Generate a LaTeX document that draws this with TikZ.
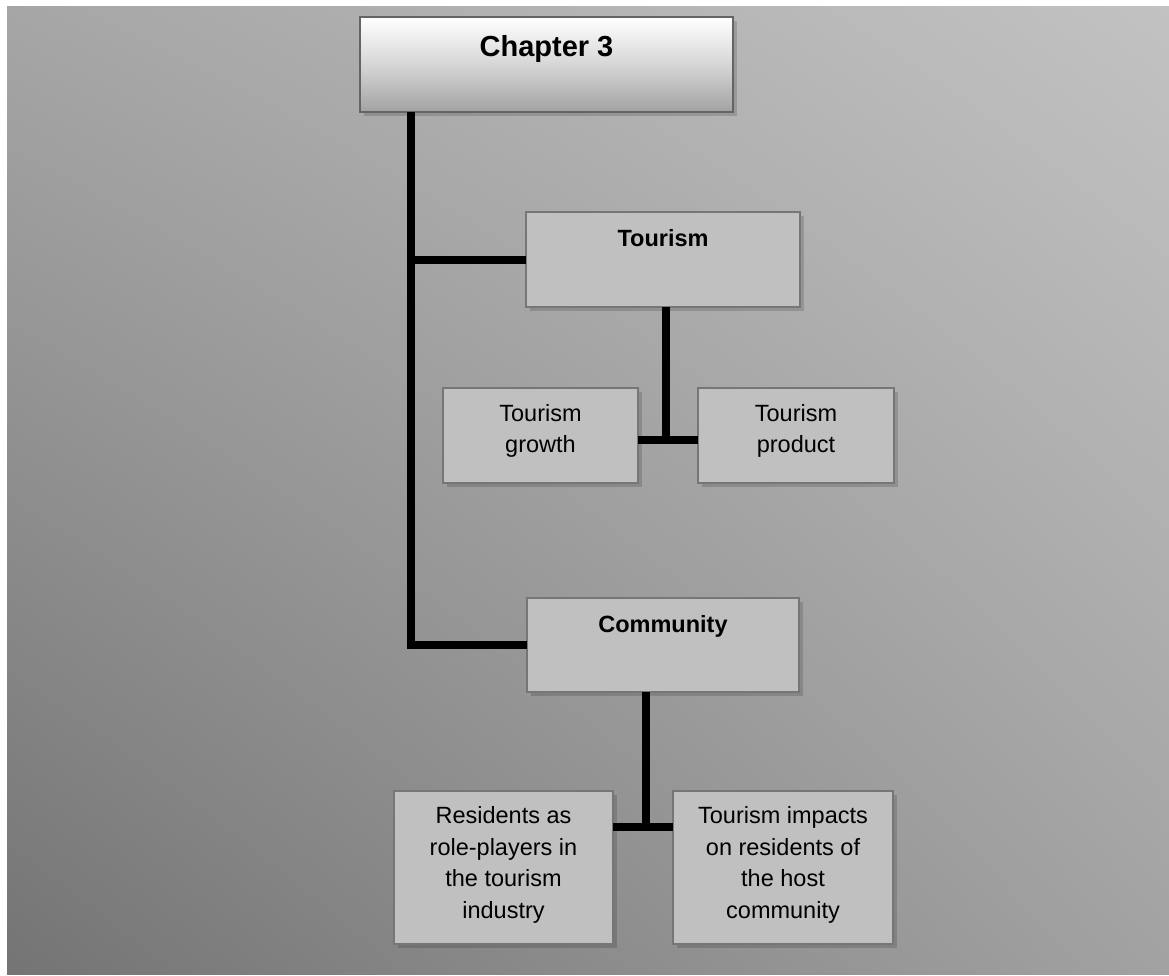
\documentclass[tikz,border=0pt]{standalone}
\usepackage{fontspec}
\setmainfont{Liberation Sans}
\usetikzlibrary{shadows,shadings}

\definecolor{bgTL}{HTML}{A6A6A6}
\definecolor{bgTR}{HTML}{C2C2C2}
\definecolor{bgBL}{HTML}{747474}
\definecolor{bgBR}{HTML}{A2A2A2}
\definecolor{boxfill}{HTML}{C0C0C0}
\definecolor{boxedge}{HTML}{767676}
\definecolor{chapedge}{HTML}{646464}
\definecolor{chapmid}{HTML}{D6D6D6}
\definecolor{chapbot}{HTML}{A2A2A2}

\begin{document}
\begin{tikzpicture}[x=1pt,y=-1pt,
  box/.style={draw=boxedge, line width=2pt, fill=boxfill, anchor=north west,
    inner sep=0pt, outer sep=0pt,
    drop shadow={shadow xshift=4pt, shadow yshift=-4pt, opacity=0.15, fill=black}},
  link/.style={line width=8pt, black, line join=miter, line cap=butt},
  head/.style={font=\bfseries\fontsize{23.5}{28}\selectfont, anchor=base, inner sep=0pt},
  body/.style={font=\fontsize{23.5}{31.7}\selectfont, align=center, inner sep=0pt}]

\useasboundingbox (0,0) rectangle (1169,975);

% shaded page background
\shade[shading=bilinear interpolation,
  upper left=bgTL, upper right=bgTR, lower left=bgBL, lower right=bgBR]
  (7,6) rectangle (1169,974);

% boxes
\node[box, draw=chapedge, line width=2.5pt, top color=white, bottom color=chapbot,
  middle color=chapmid, minimum width=373pt, minimum height=95pt] (chap) at (360,17) {};
\node[box, minimum width=274pt, minimum height=95pt] (tour) at (526,212) {};
\node[box, minimum width=195pt, minimum height=95pt] (grow) at (443,388) {};
\node[box, minimum width=196pt, minimum height=95pt] (prod) at (698,388) {};
\node[box, minimum width=272pt, minimum height=94pt] (comm) at (527,598) {};
\node[box, minimum width=219pt, minimum height=153pt] (resid) at (394,791) {};
\node[box, minimum width=220pt, minimum height=153pt] (impact) at (673,791) {};

% labels
\node[head, font=\bfseries\fontsize{29}{35}\selectfont] (chapT) at (546.5,56) {Chapter 3};
\node[head] (tourT) at (663,246.7) {Tourism};
\node[head] (commT) at (663,632.7) {Community};
\node[body] (growT) at (540.5,431) {Tourism\\growth};
\node[body] (prodT) at (796,431) {Tourism\\product};
\node[body] (residT) at (503.5,865) {Residents as\\role-players in\\the tourism\\industry};
\node[body] (impT) at (783,865) {Tourism impacts\\on residents of\\the host\\community};

% connectors
\coordinate (trunk) at (411,112);
\draw[link] (trunk) |- (comm.west);
\draw[link] (trunk |- tour.west) -- (tour.west);

\coordinate (tj) at (665.5,440);
\draw[link] (tour.south -| tj) -- (tj);
\draw[link] (grow.east |- tj) -- (prod.west |- tj);

\coordinate (cj) at (646,827);
\draw[link] (comm.south -| cj) -- (cj);
\draw[link] (resid.east |- cj) -- (impact.west |- cj);
\end{tikzpicture}
\end{document}
